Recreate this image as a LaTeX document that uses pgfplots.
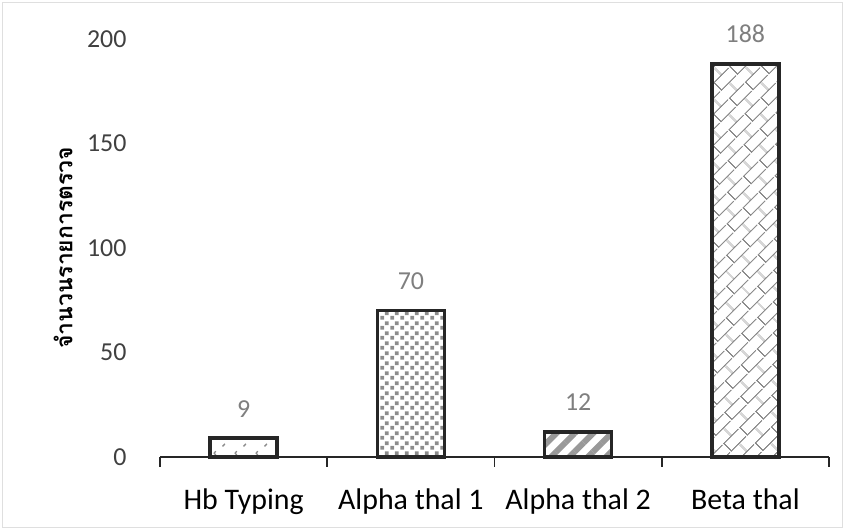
\documentclass[border=0pt]{standalone}
\usepackage{fontspec}
\setmainfont{Carlito}
\newfontfamily\thaifont[Script=Thai]{Loma}
\usepackage{pgfplots}
\pgfplotsset{compat=1.18}
\usetikzlibrary{patterns,patterns.meta}

% fill patterns of the four bars
\tikzdeclarepattern{
  name=confettiA, type=uncolored,
  bounding box={(0,0) and (21bp,18bp)},
  tile size={(21bp,18bp)},
  code={
    \draw[line width=1.3bp] (6bp,3bp) -- (4.3bp,5bp) -- (6bp,7bp)
      (13bp,12bp) -- (15.5bp,14.5bp);
  }
}
\tikzdeclarepattern{
  name=squaresB, type=uncolored,
  bounding box={(0,0) and (10bp,10bp)},
  tile size={(10bp,10bp)},
  code={
    \fill (0.4bp,0.4bp) rectangle ++(4bp,4bp);
    \fill (5.4bp,5.4bp) rectangle ++(4bp,4bp);
  }
}
\tikzdeclarepattern{
  name=diagbrick, type=uncolored,
  bounding box={(0,0) and (22bp,22bp)},
  tile size={(22bp,22bp)},
  tile transformation={rotate=45},
  code={
    \draw[line width=1.3bp] (0,0.7bp) -- (22bp,0.7bp) (0,11.7bp) -- (22bp,11.7bp)
      (0.7bp,0.7bp) -- (0.7bp,11.7bp) (11.7bp,11.7bp) -- (11.7bp,22bp);
  }
}

\definecolor{axisgray}{HTML}{262626}
\definecolor{ticktext}{HTML}{404040}
\definecolor{labelgray}{HTML}{7F7F7F}
\definecolor{patgray}{HTML}{8C8C8C}
\definecolor{stripegray}{HTML}{999999}

\begin{document}
\begin{tikzpicture}[x=1bp,y=1bp]
\useasboundingbox (0,0) rectangle (845,530);
\draw[gray!25, line width=1bp] (2.5,2.5) rectangle (842.5,527.5);
\begin{axis}[
    at={(160bp,73bp)}, anchor=south west,
    width=669bp, height=418bp, scale only axis,
    ybar, bar width=0.40, bar shift=0pt,
    xmin=-0.5, xmax=3.5, ymin=0, ymax=200,
    clip=false,
    axis x line*=bottom, axis y line*=left,
    x axis line style={-, draw=axisgray, line width=1.6bp},
    y axis line style={draw=none},
    xtick={-0.5,0.5,1.5,2.5,3.5},
    x tick label as interval,
    xticklabels={Hb Typing,Alpha thal 1,Alpha thal 2,Beta thal},
    xtick style={draw=axisgray, line width=1.6bp},
    x tick label style={font=\fontsize{30}{30}\selectfont, text=black, yshift=-18bp},
    xtick align=outside,
    major tick length=10bp,
    ytick={0,50,100,150,200},
    ytick style={draw=none},
    y tick label style={font=\fontsize{26}{26}\selectfont, text=ticktext, xshift=-30bp},
    /pgf/number format/assume math mode=true,
    every axis y label/.style={at={(rel axis cs:-0.145,0.5)}, rotate=90, anchor=center},
    ylabel={\thaifont\bfseries\fontsize{23}{23}\selectfont จำนวนรายการตรวจ},
    nodes near coords,
    every node near coord/.append style={font=\fontsize{26}{26}\selectfont, text=labelgray, yshift=16bp},
]
\addplot[draw=axisgray, line width=3.5bp, pattern=confettiA, pattern color=patgray] coordinates {(0,9)};
\addplot[draw=axisgray, line width=3.5bp, pattern=squaresB, pattern color=patgray] coordinates {(1,70)};
\addplot[draw=axisgray, line width=3.5bp, pattern={Lines[angle=45, distance=13bp, line width=6bp]}, pattern color=stripegray] coordinates {(2,12)};
\addplot[draw=axisgray, line width=3.5bp, pattern=diagbrick, pattern color=patgray] coordinates {(3,188)};
\end{axis}
\end{tikzpicture}
\end{document}
